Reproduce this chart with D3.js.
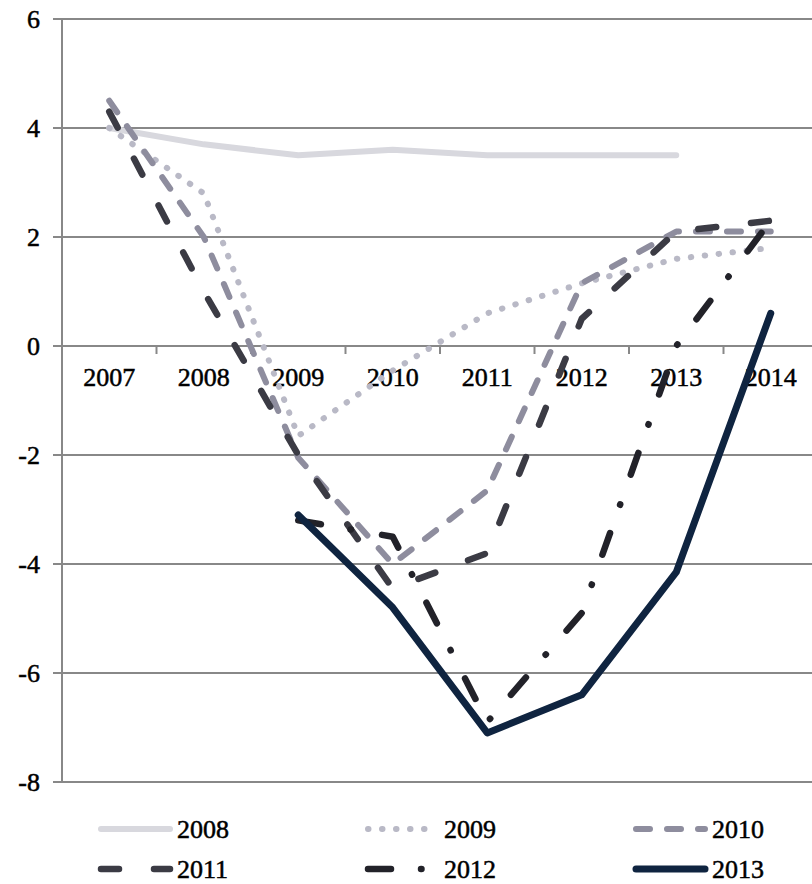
<!DOCTYPE html>
<html>
<head>
<meta charset="utf-8">
<script src="https://cdn.jsdelivr.net/npm/d3@7"></script>
<style>
  html, body { margin: 0; padding: 0; background: #fff; }
  svg { display: block; }
  text { font-family: "Liberation Serif", "Times New Roman", serif; fill: #000; stroke: #000; stroke-width: 0.5px; }
</style>
</head>
<body>
<div id="chart"></div>
<script>
// ---- data ----
const years = ["2007", "2008", "2009", "2010", "2011", "2012", "2013", "2014"];
const seriesNames = ["2008", "2009", "2010", "2011", "2012", "2013"];
const s2008 = [4.0, 3.7, 3.5, 3.6, 3.5, 3.5, 3.5, null];
const s2009 = [4.0, 2.8, -1.65, -0.45, 0.6, 1.15, 1.6, 1.8];
const s2010 = [4.5, 2.0, -2.05, -4.0, -2.65, 1.15, 2.1, 2.1];
const s2011 = [4.3, 1.0, -2.0, -4.45, -3.8, 0.5, 2.1, 2.3];
const s2012 = [null, null, -3.2, -3.5, -6.9, -4.9, 0.0, 2.3];
const s2013 = [null, null, -3.1, -4.8, -7.1, -6.4, -4.15, 0.6];
const yTicks = [-8, -6, -4, -2, 0, 2, 4, 6];

// ---- styles ----
const styles = [
  { color: "#d8d8de", width: 6, dash: null },
  { color: "#b9b9c6", width: 6, dash: "0.5,13.5" },
  { color: "#8e8d9e", width: 6, dash: "14,17" },
  { color: "#3b3b44", width: 6.5, dash: "18,35" },
  { color: "#222229", width: 6.5, dash: "23,30,0.5,31.5" },
  { color: "#0f2440", width: 7, dash: null }
];
const allSeries = [s2008, s2009, s2010, s2011, s2012, s2013];

const W = 812, H = 884;
const svg = d3.select("#chart").append("svg").attr("width", W).attr("height", H);

const x = d3.scaleBand().domain(years).range([62, 818]).paddingInner(0).paddingOuter(0);
const y = d3.scaleLinear().domain([-8, 6]).range([782, 19]);

const gridColor = "#888888";

// gridlines + y ticks
svg.append("g").selectAll("line").data(yTicks).join("line")
  .attr("x1", 53).attr("x2", W)
  .attr("y1", d => y(d)).attr("y2", d => y(d))
  .attr("stroke", gridColor).attr("stroke-width", 2);

// y axis line
svg.append("line")
  .attr("x1", 62).attr("x2", 62)
  .attr("y1", y(6)).attr("y2", y(-8))
  .attr("stroke", gridColor).attr("stroke-width", 2);

// y labels
svg.append("g").selectAll("text").data(yTicks).join("text")
  .attr("x", 40).attr("y", d => y(d))
  .attr("text-anchor", "end").attr("dominant-baseline", "central")
  .attr("font-size", 26)
  .text(d => d);

// x tick marks on zero line
const bounds = years.map(d => x(d) + x.bandwidth());
svg.append("g").selectAll("line").data(bounds).join("line")
  .attr("x1", d => d).attr("x2", d => d)
  .attr("y1", y(0)).attr("y2", y(0) + 8)
  .attr("stroke", gridColor).attr("stroke-width", 2);

// x labels
svg.append("g").selectAll("text").data(years).join("text")
  .attr("x", d => x(d) + x.bandwidth() / 2)
  .attr("y", y(0) + 40)
  .attr("text-anchor", "middle")
  .attr("font-size", 26)
  .text(d => d);

// lines
const line = d3.line()
  .defined(d => d.v != null)
  .x(d => x(d.year) + x.bandwidth() / 2)
  .y(d => y(d.v));

allSeries.forEach((vals, i) => {
  const st = styles[i];
  const pts = years.map((yr, j) => ({ year: yr, v: vals[j] }));
  const p = svg.append("path")
    .datum(pts)
    .attr("d", line)
    .attr("fill", "none")
    .attr("stroke", st.color)
    .attr("stroke-width", st.width)
    .attr("stroke-linecap", "round")
    .attr("stroke-linejoin", "round");
  if (st.dash) p.attr("stroke-dasharray", st.dash);
});

// legend
const legCols = [98, 365, 633];
const legRows = [829, 869];
seriesNames.forEach((name, i) => {
  const cx = legCols[i % 3];
  const cy = legRows[Math.floor(i / 3)];
  const st = styles[i];
  const l = svg.append("line")
    .attr("x1", cx + 3).attr("x2", cx + 72)
    .attr("y1", cy).attr("y2", cy)
    .attr("stroke", st.color)
    .attr("stroke-width", st.width)
    .attr("stroke-linecap", "round");
  if (st.dash) l.attr("stroke-dasharray", st.dash);
  svg.append("text")
    .attr("x", cx + 79).attr("y", cy)
    .attr("dominant-baseline", "central")
    .attr("font-size", 26)
    .text(name);
});
</script>
</body>
</html>
